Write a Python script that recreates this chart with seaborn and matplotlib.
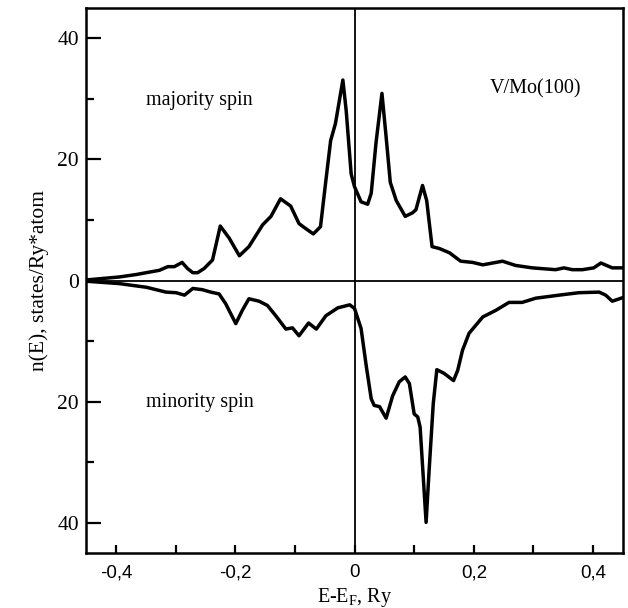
import matplotlib
matplotlib.use("Agg")
import matplotlib.pyplot as plt
import seaborn as sns
import pandas as pd
from matplotlib.ticker import MultipleLocator, FuncFormatter

# majority spin DOS
maj_e = [-0.45, -0.394, -0.366, -0.327, -0.313, -0.302, -0.289, -0.280, -0.271, -0.263,
         -0.252, -0.238, -0.225, -0.210, -0.193, -0.177, -0.154, -0.140, -0.124, -0.107,
         -0.093, -0.082, -0.069, -0.057, -0.048, -0.040, -0.032, -0.0195, -0.014, -0.0056,
         0.0, 0.011, 0.022, 0.028, 0.036, 0.046, 0.053, 0.060, 0.070, 0.085,
         0.0975, 0.103, 0.114, 0.121, 0.130, 0.142, 0.159, 0.178, 0.198, 0.215,
         0.248, 0.270, 0.298, 0.337, 0.351, 0.365, 0.382, 0.401, 0.413, 0.432, 0.45]
maj_n = [0.1, 0.6, 1.0, 1.7, 2.3, 2.3, 3.0, 2.0, 1.3, 1.3,
         2.0, 3.4, 9.0, 7.0, 4.1, 5.6, 9.2, 10.6, 13.5, 12.3,
         9.4, 8.6, 7.7, 8.9, 16.5, 23.1, 25.9, 33.1, 28.1, 17.6,
         15.5, 13.0, 12.6, 14.4, 22.7, 30.9, 23.7, 16.2, 13.2, 10.6,
         11.2, 11.7, 15.7, 13.2, 5.6, 5.3, 4.6, 3.2, 3.0, 2.6,
         3.2, 2.5, 2.1, 1.8, 2.1, 1.8, 1.8, 2.1, 2.9, 2.1, 2.1]

# minority spin DOS (plotted downward)
min_e = [-0.45, -0.394, -0.349, -0.316, -0.299, -0.285, -0.271, -0.255, -0.241, -0.227,
         -0.216, -0.199, -0.188, -0.177, -0.160, -0.146, -0.132, -0.115, -0.104, -0.093,
         -0.077, -0.064, -0.048, -0.028, -0.008, 0.0, 0.011, 0.020, 0.028, 0.033,
         0.042, 0.053, 0.064, 0.075, 0.085, 0.092, 0.100, 0.106, 0.110, 0.120,
         0.125, 0.132, 0.138, 0.150, 0.166, 0.173, 0.181, 0.192, 0.215, 0.237,
         0.259, 0.281, 0.304, 0.343, 0.376, 0.410, 0.421, 0.432, 0.45]
min_n = [0.1, 0.5, 1.1, 1.9, 2.0, 2.4, 1.3, 1.5, 1.9, 2.2,
         3.8, 7.1, 4.9, 3.0, 3.4, 4.1, 5.8, 8.0, 7.8, 9.1,
         7.0, 8.0, 5.8, 4.5, 4.0, 4.6, 7.9, 14.3, 19.5, 20.6,
         20.8, 22.7, 19.0, 16.7, 15.9, 17.0, 22.0, 22.5, 24.2, 39.9,
         31.4, 20.3, 14.7, 15.3, 16.5, 14.8, 11.5, 8.7, 6.0, 4.9,
         3.6, 3.6, 2.9, 2.4, 2.0, 1.9, 2.4, 3.4, 2.8]

x_ticks = [-0.4, -0.2, 0, 0.2, 0.4]
x_tick_labels = ["-0,4", "-0,2", "0", "0,2", "0,4"]

maj = pd.DataFrame({"E": maj_e, "n": maj_n})
mnr = pd.DataFrame({"E": min_e, "n": [-v for v in min_n]})

sns.set_style("ticks", {"axes.edgecolor": "black", "text.color": "black",
                        "xtick.color": "black", "ytick.color": "black",
                        "axes.labelcolor": "black"})
plt.rcParams["font.family"] = ["Liberation Serif", "DejaVu Serif"]
plt.rcParams["mathtext.fontset"] = "custom"
plt.rcParams["mathtext.rm"] = "Liberation Serif"
plt.rcParams["mathtext.it"] = "Liberation Serif"

fig = plt.figure(figsize=(6.28, 6.08), dpi=100)
ax = fig.add_axes([0.137, 0.09, 0.855, 0.897])

ax.axhline(0, color="black", lw=1.3, zorder=1)
ax.axvline(0, color="black", lw=1.3, zorder=1)
sns.lineplot(data=maj, x="E", y="n", ax=ax, color="black", lw=2.5, sort=False)
sns.lineplot(data=mnr, x="E", y="n", ax=ax, color="black", lw=2.5, sort=False)

ax.set_xlim(-0.45, 0.45)
ax.set_ylim(-45, 45)
ax.set_xticks(x_ticks)
ax.set_xticklabels(x_tick_labels, family="Liberation Sans", fontsize=13.5)
ax.xaxis.set_minor_locator(MultipleLocator(0.1))
ax.yaxis.set_major_locator(MultipleLocator(20))
ax.yaxis.set_minor_locator(MultipleLocator(10))
ax.yaxis.set_major_formatter(FuncFormatter(lambda v, p: f"{abs(v):g}"))
ax.tick_params(axis="y", which="major", direction="in", length=11, width=1.6, pad=5, labelsize=15.5)
ax.tick_params(axis="y", which="minor", direction="in", length=6, width=1.6)
ax.tick_params(axis="x", which="both", direction="in", length=6, width=1.6, pad=8)
for s in ax.spines.values():
    s.set_linewidth(1.8)
    s.set_color("black")

ax.set_xlabel("E-E$_\\mathrm{F}$, Ry", fontsize=14.5, labelpad=3)
ax.set_ylabel("n(E), states/Ry*atom", fontsize=15.5, labelpad=6)

ax.text(-0.26, 29.8, "majority spin", fontsize=14.5, ha="center", va="center")
ax.text(-0.26, -20.2, "minority spin", fontsize=14.5, ha="center", va="center")
ax.text(0.304, 31.7, "V/Mo(100)", fontsize=14.5, ha="center", va="center")

fig.savefig("out.png", dpi=100)
